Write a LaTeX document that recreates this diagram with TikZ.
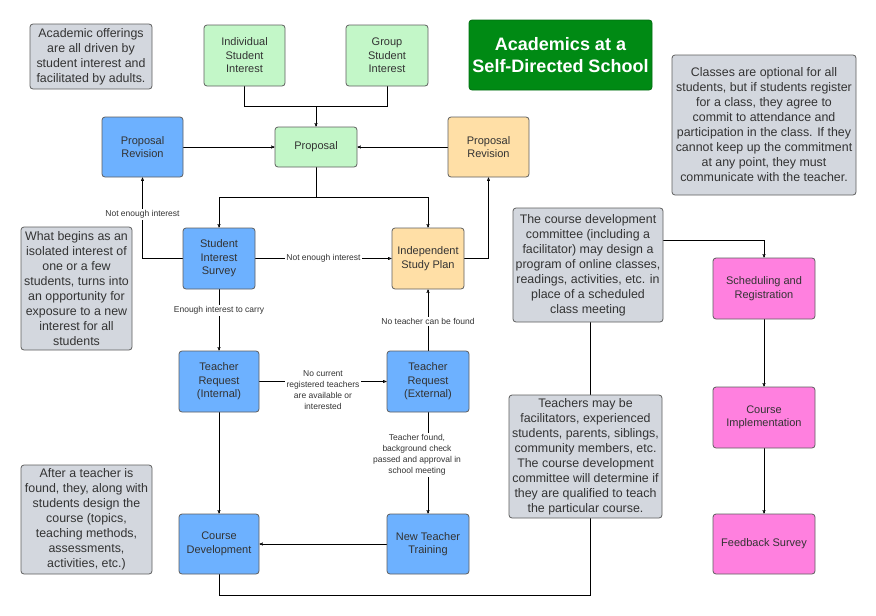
\documentclass[tikz,border=0pt]{standalone}
\usepackage{fontspec}
\setmainfont{Liberation Sans}
\usepackage{xcolor}
\usepackage{tikz}
\usetikzlibrary{arrows}
\usetikzlibrary{backgrounds}
\definecolor{boxgreen}{HTML}{C3F7C8}
\definecolor{boxblue}{HTML}{6DB1FF}
\definecolor{boxorange}{HTML}{FFDFA6}
\definecolor{boxpink}{HTML}{FF80DF}
\definecolor{notegrey}{HTML}{D3D7DE}
\definecolor{titlegreen}{HTML}{008A14}
\definecolor{linegrey}{HTML}{5E5E5E}
\definecolor{wiregrey}{HTML}{474A4F}
\definecolor{textgrey}{HTML}{333333}
\tikzset{
    treenode/.style = {align=center, inner sep=0pt, text centered, rounded corners=3pt, draw=linegrey, line width=0.8pt, text=textgrey, font=\fontsize{11}{13.5}\selectfont},
    green_node/.style = {treenode, fill=boxgreen},
    blue_node/.style = {treenode, fill=boxblue},
    orange_node/.style = {treenode, fill=boxorange},
    pink_node/.style = {treenode, fill=boxpink},
    note_node/.style = {treenode, fill=notegrey, font=\fontsize{12.4}{15}\selectfont},
    title_node/.style = {treenode, fill=titlegreen, draw=titlegreen!80!black, text=white, font=\fontsize{18}{21.7}\selectfont\bfseries},
    edge_label/.style = {align=center, inner sep=1.5pt, fill=white, text=textgrey, font=\fontsize{8.5}{11}\selectfont}
}

\begin{document}
\begin{tikzpicture}
            [x=1pt, y=-1pt, ->, >=stealth', line width=1pt, draw=wiregrey]

            \useasboundingbox (0,0) rectangle (876,616);

            \node [note_node, minimum width=122, minimum height=65] (offer) at (91,56.5)
                {Academic offerings\\are all driven by\\student interest and\\facilitated by adults.};
            \node [green_node, minimum width=81, minimum height=61] (indiv) at (244.5,55.5)
                {Individual\\Student\\Interest};
            \node [green_node, minimum width=82, minimum height=61] (group) at (387,55.5)
                {Group\\Student\\Interest};
            \node [title_node, minimum width=183, minimum height=70] (title) at (560.5,55)
                {Academics at a\\Self-Directed School};
            \node [note_node, minimum width=184, minimum height=140] (classes) at (764,125)
                {Classes are optional for all\\students, but if students register\\for a class, they agree to\\commit to attendance and\\participation in the class. If they\\cannot keep up the commitment\\at any point, they must\\communicate with the teacher.};

            \node [blue_node, minimum width=81, minimum height=60] (rev_blue) at (142.5,147)
                {Proposal\\Revision};
            \node [green_node, minimum width=82, minimum height=40] (proposal) at (316,147)
                {Proposal};
            \node [orange_node, minimum width=81, minimum height=60] (rev_orange) at (488.5,147)
                {Proposal\\Revision};

            \node [note_node, minimum width=111, minimum height=123] (begins) at (76.5,288.5)
                {What begins as an\\isolated interest of\\one or a few\\students, turns into\\an opportunity for\\exposure to a new\\interest for all\\students};
            \node [blue_node, minimum width=72, minimum height=61] (survey) at (219,258.5)
                {Student\\Interest\\Survey};
            \node [orange_node, minimum width=72, minimum height=61] (isp) at (428,258.5)
                {Independent\\Study Plan};
            \node [note_node, minimum width=150, minimum height=114] (committee) at (588,265)
                {The course development\\committee (including a\\facilitator) may design a\\program of online classes,\\readings, activities, etc. in\\place of a scheduled\\class meeting};
            \node [pink_node, minimum width=102, minimum height=61] (sched) at (764,288.5)
                {Scheduling and\\Registration};

            \node [blue_node, minimum width=80, minimum height=61] (internal) at (219,381.5)
                {Teacher\\Request\\(Internal)};
            \node [blue_node, minimum width=82, minimum height=61] (external) at (428,381.5)
                {Teacher\\Request\\(External)};
            \node [pink_node, minimum width=102, minimum height=61] (impl) at (764,417.5)
                {Course\\Implementation};
            \node [note_node, minimum width=153, minimum height=123] (teachers) at (585.5,456.5)
                {Teachers may be\\facilitators, experienced\\students, parents, siblings,\\community members, etc.\\The course development\\committee will determine if\\they are qualified to teach\\the particular course.};

            \node [note_node, minimum width=131, minimum height=109] (after) at (86.5,519.5)
                {After a teacher is\\found, they, along with\\students design the\\course (topics,\\teaching methods,\\assessments,\\activities, etc.)};
            \node [blue_node, minimum width=80, minimum height=60] (coursedev) at (219,544)
                {Course\\Development};
            \node [blue_node, minimum width=82, minimum height=60] (training) at (428,544)
                {New Teacher\\Training};
            \node [pink_node, minimum width=102, minimum height=60] (feedback) at (764,544)
                {Feedback Survey};

            \coordinate (merge) at (316,106);
            \coordinate (split) at (316,197);
            \coordinate (loop_a) at (219,595);
            \coordinate (loop_b) at (590,595);
            \coordinate (loop_c) at (590,240);

            \begin{scope}[on background layer]
                \draw [-] (indiv.south) |- (merge);
                \draw [-] (group.south) |- (merge);
                \draw (merge) -- (proposal.north);
                \draw (rev_blue.east) -- (proposal.west);
                \draw (rev_orange.west) -- (proposal.east);
                \draw [-] (proposal.south) -- (split);
                \draw (split) -| (survey.north);
                \draw (split) -| (isp.north);
                \draw (survey.west) -| (rev_blue.south)
                    node [edge_label, pos=0.77] {Not enough interest};
                \draw (survey.east) -- (isp.west)
                    node [edge_label, midway] {Not enough interest};
                \draw (isp.east) -| (rev_orange.south);
                \draw (survey.south) -- (internal.north)
                    node [edge_label, pos=0.34] {Enough interest to carry};
                \draw (internal.east) -- (external.west)
                    node [edge_label, midway, yshift=-9pt] {No current\\registered teachers\\are available or\\interested};
                \draw (external.north) -- (isp.south)
                    node [edge_label, pos=0.47] {No teacher can be found};
                \draw (external.south) -- (training.north)
                    node [edge_label, pos=0.42, xshift=-11pt] {Teacher found,\\background check\\passed and approval in\\school meeting};
                \draw (training.west) -- (coursedev.east);
                \draw (internal.south) -- (coursedev.north);
                \draw (coursedev.south) -- (loop_a) -- (loop_b) -- (loop_c) -| (sched.north);
                \draw (sched.south) -- (impl.north);
                \draw (impl.south) -- (feedback.north);
            \end{scope}
        \end{tikzpicture}
\end{document}
